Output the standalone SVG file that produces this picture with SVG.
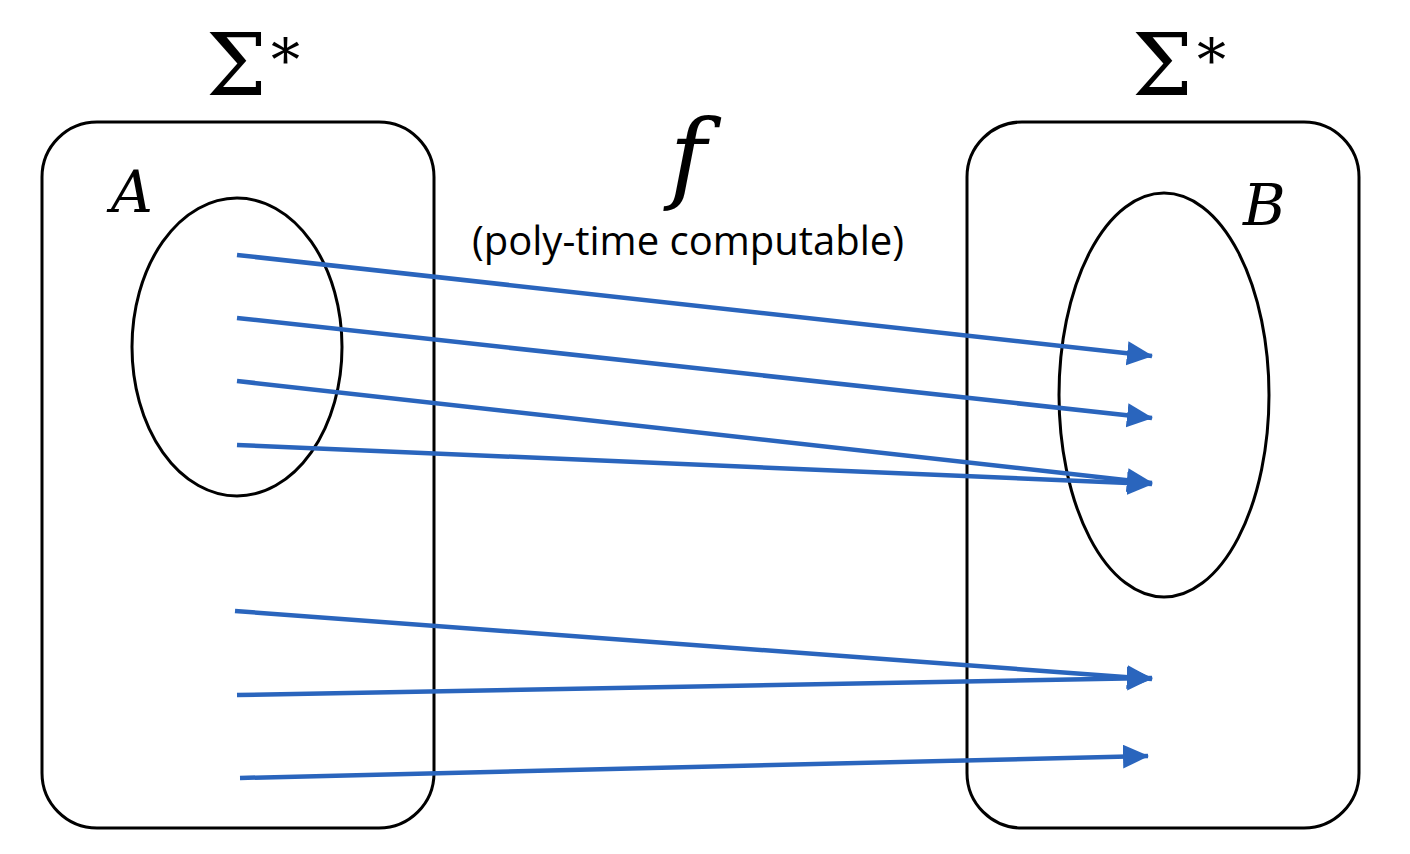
<svg xmlns="http://www.w3.org/2000/svg" width="1410" height="854" viewBox="0 0 1410 854">
<style>
.box{fill:none;stroke:#000;stroke-width:3}
.ell{fill:none;stroke:#000;stroke-width:3}
.math{font-family:"DejaVu Serif","Liberation Serif",serif;fill:#000}
.lbl{font-family:"Open Sans",Lato,sans-serif;fill:#000}
.arr{stroke:#2a65bd;stroke-width:4.5;fill:none;marker-end:url(#ah)}
</style>
<defs>
<marker id="ah" markerUnits="userSpaceOnUse" markerWidth="28" markerHeight="26" refX="25" refY="12" orient="auto">
<path d="M0,0 L26,12 L0,24 Z" fill="#2a65bd"/>
</marker>
</defs>
<rect width="1410" height="854" fill="#fff"/>
<g id="left-set">
<rect class="box" x="42" y="122" width="392" height="706" rx="55" ry="55"/>
<text class="math" x="206" y="95" font-size="86">Σ</text>
<text class="math" x="271" y="80" font-size="58">*</text>
</g>
<g id="right-set">
<rect class="box" x="967" y="122" width="392" height="706" rx="55" ry="55"/>
<text class="math" x="1132" y="95" font-size="86">Σ</text>
<text class="math" x="1197" y="80" font-size="58">*</text>
</g>
<g id="A">
<ellipse class="ell" cx="237" cy="347" rx="105" ry="149"/>
<text class="math" x="111" y="212" font-size="58" font-style="italic">A</text>
</g>
<g id="B">
<ellipse class="ell" cx="1164" cy="395" rx="105" ry="202"/>
<text class="math" x="1243" y="225" font-size="58" font-style="italic">B</text>
</g>
<g id="f-label">
<text class="math" x="688" y="190" font-size="100" font-style="italic" text-anchor="middle">f</text>
<text class="lbl" x="688" y="255" font-size="40" text-anchor="middle">(poly-time computable)</text>
</g>
<g id="connectors">
<line class="arr" x1="237" y1="255" x2="1152" y2="356"/>
<line class="arr" x1="237" y1="318" x2="1152" y2="418"/>
<line class="arr" x1="237" y1="381" x2="1152" y2="483"/>
<line class="arr" x1="237" y1="445" x2="1152" y2="484"/>
<line class="arr" x1="235" y1="611" x2="1152" y2="679"/>
<line class="arr" x1="237" y1="695" x2="1152" y2="678"/>
<line class="arr" x1="240" y1="778" x2="1148" y2="756"/>
</g>
</svg>
